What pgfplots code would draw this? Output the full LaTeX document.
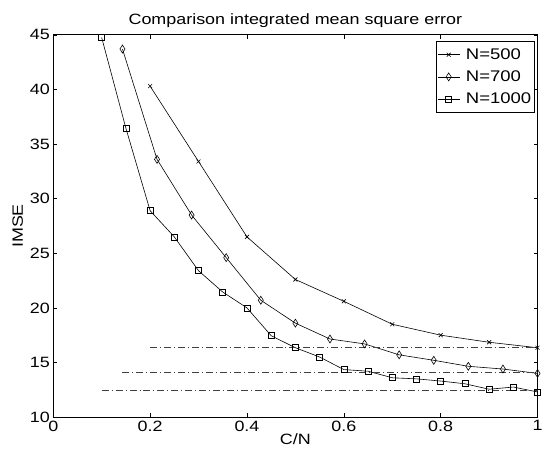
\documentclass[border=0pt]{standalone}
\usepackage{fontspec}
\setmainfont{Liberation Sans}[FakeStretch=1.2]
\usepackage{pgfplots}
\pgfplotsset{compat=1.18}
\usetikzlibrary{calc}
\begin{document}
\begin{tikzpicture}
\begin{axis}[
  scale only axis,
  width=486.5bp, height=384bp,
  xmin=0, xmax=1, ymin=10, ymax=45,
  xtick={0,0.2,0.4,0.6,0.8,1},
  ytick={10,15,20,25,30,35,40,45},
  xticklabels={0,0.2,0.4,0.6,0.8,1},
  /pgf/number format/assume math mode=true,
  tick align=inside,
  major tick length=4bp,
  axis line style={line width=0.9pt},
  tick style={line width=0.5pt, black},
  tick label style={font=\fontsize{15bp}{17bp}\selectfont},
  xlabel={C/N}, ylabel={IMSE},
  label style={font=\fontsize{15bp}{17bp}\selectfont},
  xlabel style={yshift=4bp},
  title={Comparison integrated mean square error},
  title style={font=\fontsize{15bp}{17bp}\selectfont, yshift=-2bp},
  legend style={at={(1,1)}, anchor=north east, xshift=-3bp, yshift=-6.5bp,
                font=\fontsize{15.5bp}{17bp}\selectfont, draw=black, line width=0.6pt,
                inner xsep=1bp, inner ysep=5bp, row sep=6bp,
                /tikz/every odd column/.append style={column sep=4bp}},
  legend cell align=left,
  legend image code/.code={
    \draw[mark repeat=2, mark phase=2] plot coordinates {(0bp,0bp) (11bp,0bp) (22bp,0bp)};
  },
]
\addplot[black, line width=0.6pt, mark=x, mark size=2.8bp] coordinates {
  (0.2,40.3) (0.3,33.4) (0.4,26.5) (0.5,22.6) (0.6,20.6)
  (0.7,18.5) (0.8,17.5) (0.9,16.85) (1,16.35)
};
\addplot[black, line width=0.6pt, mark=diamond, mark size=4bp,
         mark options={xscale=0.85, fill=white, line width=0.6pt}] coordinates {
  (0.1429,43.7) (0.2143,33.6) (0.2857,28.5) (0.3571,24.6) (0.4286,20.7)
  (0.5,18.6) (0.5714,17.15) (0.6429,16.7) (0.7143,15.7) (0.7857,15.2)
  (0.8571,14.65) (0.9286,14.4) (1,14.0)
};
\addplot[black, line width=0.6pt, mark=square, mark size=3bp,
         mark options={line width=0.6pt}] coordinates {
  (0.1,44.75) (0.15,36.45) (0.2,28.9) (0.25,26.5) (0.3,23.4) (0.35,21.45)
  (0.4,20.0) (0.45,17.45) (0.5,16.35) (0.55,15.5) (0.6,14.35) (0.65,14.2)
  (0.7,13.6) (0.75,13.5) (0.8,13.3) (0.85,13.05) (0.9,12.55) (0.95,12.75)
  (1,12.3)
};
\legend{N=500, N=700, N=1000}
% reference levels
\addplot[black!75, line width=0.6pt, dash pattern=on 7bp off 3bp on 1bp off 3bp, forget plot]
  coordinates {(0.2,16.37) (1,16.37)};
\addplot[black!75, line width=0.6pt, dash pattern=on 7bp off 3bp on 1bp off 3bp, forget plot]
  coordinates {(0.1429,14.13) (1,14.13)};
\addplot[black!75, line width=0.6pt, dash pattern=on 7bp off 3bp on 1bp off 3bp, forget plot]
  coordinates {(0.1,12.46) (1,12.46)};
\end{axis}
\pgfresetboundingbox
\useasboundingbox ($(current axis.south west)+(-53.5bp,-42.7bp)$)
  rectangle ($(current axis.north east)+(5.5bp,35bp)$);
\end{tikzpicture}
\end{document}
